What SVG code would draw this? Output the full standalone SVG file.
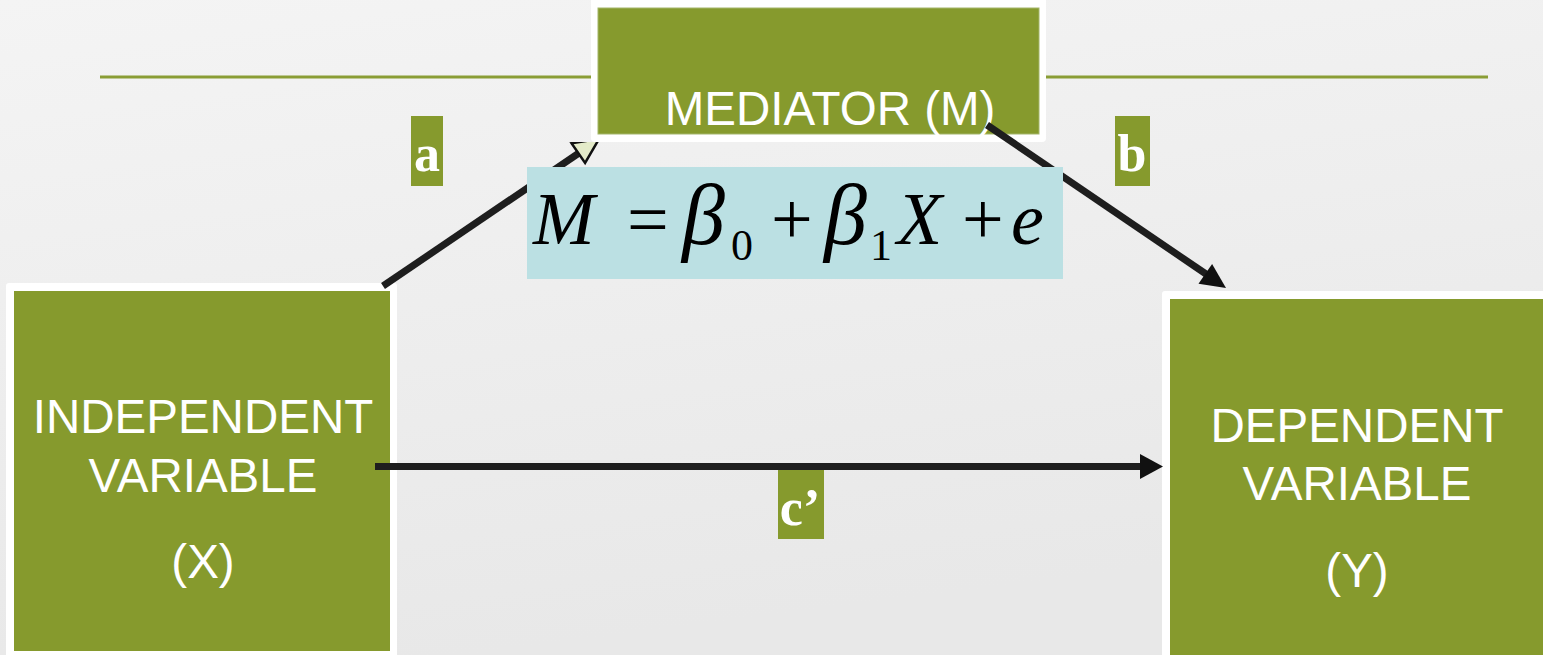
<svg xmlns="http://www.w3.org/2000/svg" width="1543" height="655" viewBox="0 0 1543 655">
  <defs>
    <linearGradient id="bg" x1="0" y1="0" x2="0.3" y2="1">
      <stop offset="0" stop-color="#f4f4f4"/>
      <stop offset="1" stop-color="#e8e8e8"/>
    </linearGradient>
    <clipPath id="belowM">
      <rect x="0" y="142" width="1543" height="513"/>
    </clipPath>
    <style>
      .frame { fill: #ffffff; }
      .box { fill: #869a2d; }
      .boxtxt { font-family: "Liberation Sans", Arial, sans-serif; font-size: 47.5px; fill: #ffffff; text-anchor: middle; }
      .lbl { fill: #869a2d; }
      .lbltxt { font-family: "Liberation Serif", "Times New Roman", serif; font-weight: bold; font-size: 52px; fill: #ffffff; text-anchor: middle; }
      .conn { stroke: #1e1e1e; stroke-width: 7; fill: none; }
      .head { fill: #111111; }
      .eq { font-family: "Liberation Serif", "Times New Roman", serif; font-size: 74px; fill: #000000; }
      .it { font-style: italic; }
      .beta { font-style: italic; font-size: 86px; }
      .sub { font-size: 44px; }
    </style>
  </defs>

  <rect x="0" y="0" width="1543" height="655" fill="url(#bg)"/>
  <line x1="100" y1="77" x2="1488" y2="77" stroke="#8a9d35" stroke-width="3"/>

  <g id="node-x">
    <rect class="frame" x="6" y="283" width="391" height="380" rx="3"/>
    <rect class="box" x="14" y="291" width="376" height="360"/>
    <text class="boxtxt" x="203" y="433">INDEPENDENT</text>
    <text class="boxtxt" x="203" y="492">VARIABLE</text>
    <text class="boxtxt" x="203" y="578">(X)</text>
  </g>

  <g id="node-y">
    <rect class="frame" x="1162" y="291" width="400" height="380" rx="3"/>
    <rect class="box" x="1170" y="299" width="380" height="370"/>
    <text class="boxtxt" x="1357" y="442">DEPENDENT</text>
    <text class="boxtxt" x="1357" y="500">VARIABLE</text>
    <text class="boxtxt" x="1357" y="587">(Y)</text>
  </g>

  <g id="node-m">
    <rect class="frame" x="591" y="-5" width="455" height="147" rx="4"/>
    <rect class="box" x="598" y="8" width="441" height="126" stroke="#a3b56a" stroke-width="1"/>
    <text class="boxtxt" x="830" y="125">MEDIATOR (M)</text>
  </g>

  <g id="connectors">
    <line class="conn" x1="383" y1="286" x2="579" y2="153"/>
    <polygon points="599,139 571.5,143.2 585.1,163" fill="#e4ebc9" stroke="#111111" stroke-width="2.5" stroke-linejoin="miter" clip-path="url(#belowM)"/>
    <line class="conn" x1="987" y1="125" x2="1206" y2="274"/>
    <polygon class="head" points="1226,288 1198.5,283.8 1212.1,264"/>
    <line class="conn" x1="375" y1="466.5" x2="1142" y2="466.5"/>
    <polygon class="head" points="1163,466.5 1140,454 1140,479"/>
  </g>

  <g id="label-a">
    <rect class="lbl" x="411" y="116" width="32" height="70"/>
    <text class="lbltxt" x="427" y="171">a</text>
  </g>
  <g id="label-b">
    <rect class="lbl" x="1115" y="116" width="35" height="70"/>
    <text class="lbltxt" x="1132" y="171">b</text>
  </g>
  <g id="label-c">
    <rect class="lbl" x="778" y="470" width="46" height="69"/>
    <text class="lbltxt" x="800" y="525">c’</text>
  </g>

  <g id="equation">
    <rect x="527" y="167" width="536" height="112" fill="#bbe0e3"/>
    <text class="eq" y="244"><tspan class="it" x="533">M</tspan><tspan x="627">=</tspan><tspan class="beta" x="682">β</tspan><tspan class="sub" x="731" y="260">0</tspan><tspan x="771" y="244">+</tspan><tspan class="beta" x="824">β</tspan><tspan class="sub" x="870" y="260">1</tspan><tspan class="it" x="897" y="244">X</tspan><tspan x="962">+</tspan><tspan class="it" x="1011">e</tspan></text>
  </g>
</svg>
